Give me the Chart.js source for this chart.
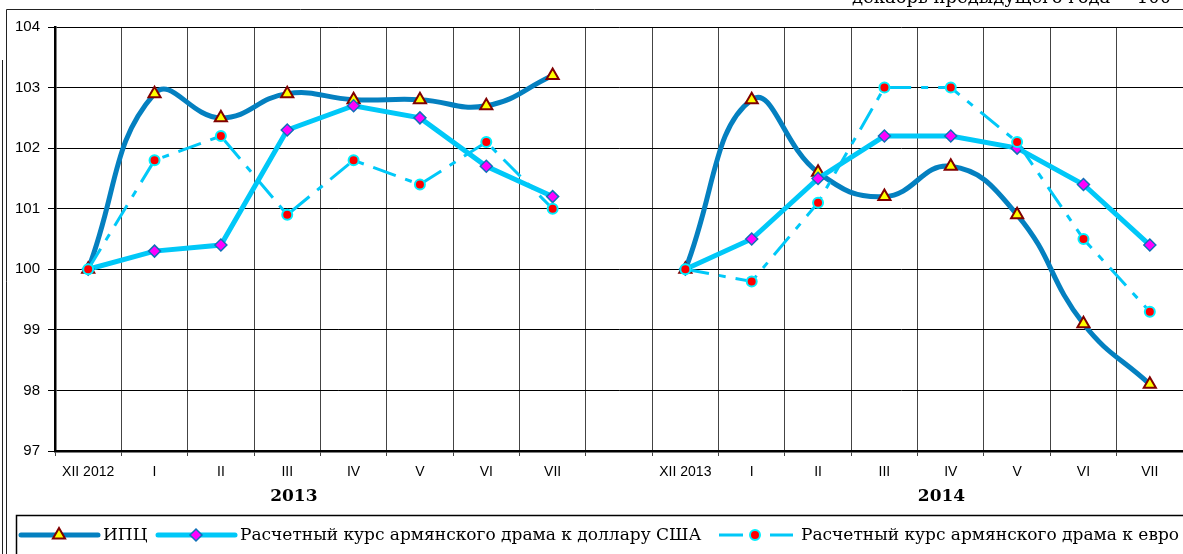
<!DOCTYPE html>
<html><head><meta charset="utf-8">
<script src="https://cdn.jsdelivr.net/npm/chart.js@4.4.1/dist/chart.umd.min.js"></script>
<style>html,body{margin:0;padding:0;background:#fff}#wrap{width:1183px;height:554px;position:relative}</style>
</head><body><div id="wrap"><canvas id="c"></canvas></div>
<script>
const categories = ['XII 2012','I','II','III','IV','V','VI','VII','','XII 2013','I','II','III','IV','V','VI','VII'];
const cpi = [100,102.9,102.5,102.9,102.8,102.8,102.7,103.2,null,100,102.8,101.6,101.2,101.7,100.9,99.1,98.1];
const usd = [100,100.3,100.4,102.3,102.7,102.5,101.7,101.2,null,100,100.5,101.5,102.2,102.2,102.0,101.4,100.4];
const eur = [100,101.8,102.2,100.9,101.8,101.4,102.1,101.0,null,100,99.8,101.1,103.0,103.0,102.1,100.5,99.3];
const yearLabels = ['2013','2014'];
const yTicks = [97,98,99,100,101,102,103,104];
const seriesNames = ['ИПЦ','Расчетный курс армянского драма к доллару США','Расчетный курс армянского драма к евро'];
const unitNote = 'декабрь предыдущего года = 100';

const C_CPI = '#0480C0', C_CYAN = '#00C8F8';
const EUR_DASH = [24,10,7,10];

const deco = {
  id: 'deco',
  beforeDraw(chart) {
    const ctx = chart.ctx;
    ctx.save(); ctx.fillStyle = '#fff'; ctx.fillRect(0,0,chart.width,chart.height); ctx.restore();
  },
  afterDraw(chart) {
    const ctx = chart.ctx, xs = chart.scales.x;
    const xAt = f => { const i = Math.floor(f); const a = xs.getPixelForValue(i), b = xs.getPixelForValue(i+1); return a + (b-a)*(f-i); };
    ctx.save();
    // frame
    ctx.strokeStyle = '#222'; ctx.lineWidth = 1;
    ctx.beginPath(); ctx.moveTo(6.5, 554); ctx.lineTo(6.5, 9.5); ctx.lineTo(1183, 9.5); ctx.stroke();
    ctx.beginPath(); ctx.moveTo(2.5, 60); ctx.lineTo(2.5, 554); ctx.stroke();
    // note at top (clipped)
    ctx.fillStyle = '#000'; ctx.font = '18px "DejaVu Serif", serif';
    ctx.textAlign = 'left'; ctx.textBaseline = 'alphabetic';
    ctx.fillText(unitNote, 852, 3);
    // year labels
    ctx.font = 'bold 17px "DejaVu Serif", serif'; ctx.textAlign = 'center'; ctx.textBaseline = 'middle';
    ctx.fillText(yearLabels[0], xAt(3.1), 497);
    ctx.fillText(yearLabels[1], xAt(12.86), 497);
    // legend box
    ctx.lineWidth = 1.5; ctx.strokeStyle = '#000';
    ctx.strokeRect(16.5, 515.5, 1200, 60);
    const ly = 535;
    const ds = chart.data.datasets;
    const items = [
      {x0: 21, x1: 98, mx: 59, tx: 103, d: ds[0]},
      {x0: 158, x1: 235, mx: 196, tx: 240, d: ds[1]},
      {x0: 719, x1: 793, mx: 755, tx: 801, d: ds[2]}
    ];
    items.forEach((it, k) => {
      const d = it.d;
      ctx.save();
      ctx.strokeStyle = d.borderColor; ctx.lineWidth = d.borderWidth; ctx.lineCap = k === 2 ? 'butt' : 'round';
      ctx.setLineDash(d.borderDash || []);
      ctx.beginPath(); ctx.moveTo(it.x0, ly); ctx.lineTo(it.x1, ly); ctx.stroke();
      ctx.restore();
      ctx.save();
      ctx.fillStyle = d.pointBackgroundColor; ctx.strokeStyle = d.pointBorderColor; ctx.lineWidth = d.pointBorderWidth;
      Chart.helpers.drawPoint(ctx, {pointStyle: d.pointStyle, radius: d.pointRadius, rotation: 0, borderWidth: d.pointBorderWidth}, it.mx, ly);
      ctx.restore();
      ctx.fillStyle = '#000'; ctx.font = '17px "DejaVu Serif", serif'; ctx.textAlign = 'left'; ctx.textBaseline = 'middle';
      ctx.fillText(seriesNames[k], it.tx, ly + 1);
    });
    ctx.restore();
  }
};

new Chart(document.getElementById('c'), {
  type: 'line',
  data: {
    labels: categories,
    datasets: [
      {label: seriesNames[0], data: cpi, borderColor: C_CPI, borderWidth: 5, tension: 0.45,
       pointStyle: 'triangle', pointRadius: 7, pointBackgroundColor: '#FFFF00', pointBorderColor: '#800000', pointBorderWidth: 2, order: 3},
      {label: seriesNames[1], data: usd, borderColor: C_CYAN, borderWidth: 5, tension: 0,
       pointStyle: 'rectRot', pointRadius: 6, pointBackgroundColor: '#FF00FF', pointBorderColor: '#1070B8', pointBorderWidth: 1.5, order: 2},
      {label: seriesNames[2], data: eur, borderColor: C_CYAN, borderWidth: 3, borderDash: EUR_DASH, tension: 0,
       pointStyle: 'circle', pointRadius: 5, pointBackgroundColor: '#FF0000', pointBorderColor: '#00F0FF', pointBorderWidth: 2, order: 1}
    ]
  },
  options: {
    responsive: true, maintainAspectRatio: false, animation: false,
    spanGaps: false,
    layout: {autoPadding: false, padding: {left: 0, right: 0, top: 27, bottom: 0}},
    plugins: {legend: {display: false}, tooltip: {enabled: false}},
    scales: {
      x: {
        offset: true,
        grid: {color: '#444', lineWidth: 1, offset: true, tickLength: 5, drawOnChartArea: true},
        border: {color: '#000', width: 2.5},
        ticks: {color: '#000', font: {family: '"Liberation Sans", Arial, sans-serif', size: 14}, padding: 8, maxRotation: 0, autoSkip: false},
        afterFit: s => { s.height = 103; s.paddingLeft = 0; s.paddingRight = 0; }
      },
      y: {
        min: yTicks[0], max: yTicks[yTicks.length-1],
        ticks: {stepSize: 1, color: '#000', font: {family: '"Liberation Sans", Arial, sans-serif', size: 15}, padding: 8},
        grid: {color: '#000', lineWidth: 1, tickLength: 7},
        border: {color: '#000', width: 2.5},
        afterFit: s => { s.width = 55; s.paddingTop = 0; s.paddingBottom = 0; }
      }
    }
  },
  plugins: [deco]
});
</script></body></html>
